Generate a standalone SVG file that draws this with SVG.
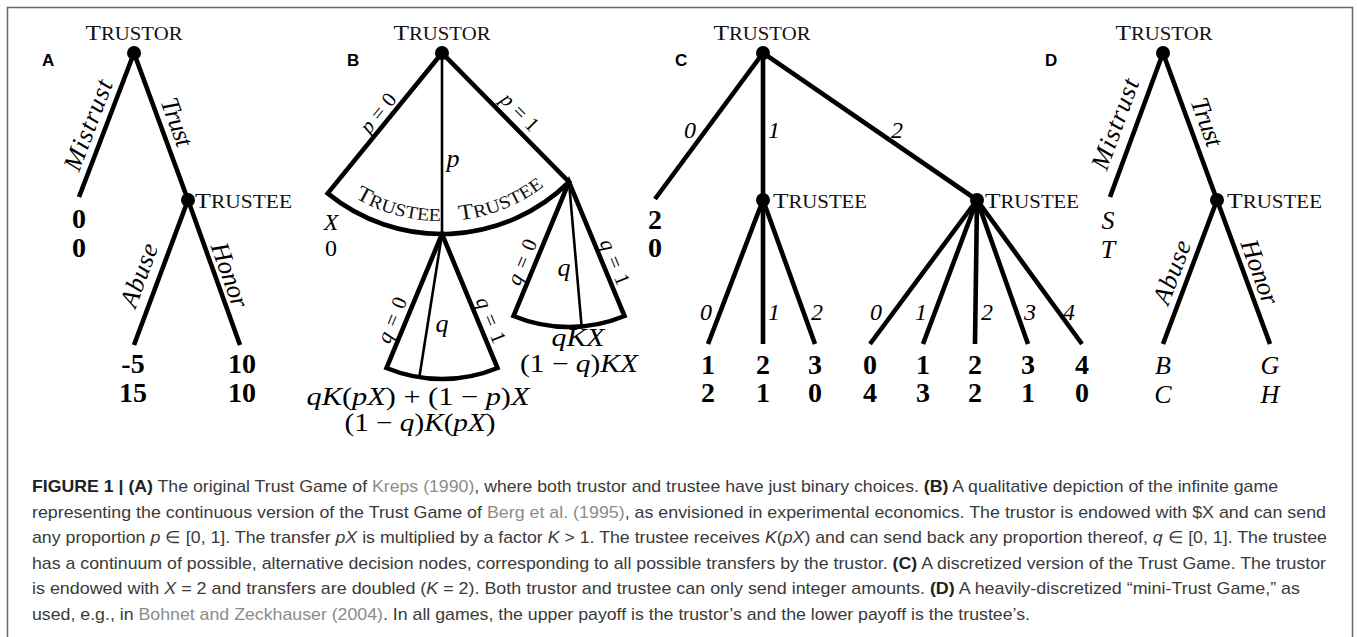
<svg xmlns="http://www.w3.org/2000/svg" width="1357" height="637" viewBox="0 0 1357 637">
  <style>
    .edge { stroke:#000; stroke-width:4.6; fill:none; stroke-linejoin:miter; }
    .thin { stroke:#000; stroke-width:2.6; fill:none; }
    .dot { fill:#000; }
    .sc { font-family:"Liberation Serif",serif; font-size:22px; fill:#111; }
    .sc .s { font-size:18px; }
    .lbl { font-family:"Liberation Serif",serif; font-style:italic; font-size:26px; fill:#000; text-anchor:middle; }
    .dig { font-family:"Liberation Serif",serif; font-style:italic; font-size:24px; fill:#000; text-anchor:middle; }
    .pay { font-family:"Liberation Serif",serif; font-weight:bold; font-size:28px; fill:#000; text-anchor:middle; }
    .ipay { font-family:"Liberation Serif",serif; font-style:italic; font-size:26px; fill:#000; text-anchor:middle; }
    .math { font-family:"Liberation Serif",serif; font-size:26px; fill:#000; text-anchor:middle; }
    .small { font-size:24px; }
    .formula { font-family:"Liberation Serif",serif; font-size:25px; fill:#000; text-anchor:middle; }
    .mlbl { font-family:"Liberation Serif",serif; font-size:21px; fill:#000; text-anchor:middle; }
    .i { font-style:italic; }
    .panel { font-family:"Liberation Sans",Arial,sans-serif; font-weight:bold; font-size:17px; fill:#000; }
    .cap { font-family:"Liberation Sans Narrow","Liberation Sans",Arial,sans-serif; font-size:17px; fill:#3a3a3a; }
    .cap .b { font-weight:bold; fill:#222; }
    .cap .ln { fill:#8c8c8c; }
  </style>
  <defs>
    <!-- baseline arcs (r = 168 about the trustor of B) for the two trustee labels -->
    <path id="arcB-left" d="M354.8,197.7 A168,168 0 0,0 444.9,221"/>
    <path id="arcB-right" d="M459.6,220.1 A168,168 0 0,0 549.8,181.7"/>
  </defs>

  <!-- frame -->
  <rect x="7.5" y="7.5" width="1345" height="650" fill="#fff" stroke="#666" stroke-width="1.5"/>

  <!-- panel letters -->
  <g id="panel-letters">
    <text class="panel" x="42" y="66">A</text>
    <text class="panel" x="347" y="66">B</text>
    <text class="panel" x="675" y="66">C</text>
    <text class="panel" x="1045" y="66">D</text>
  </g>

  <!-- connectors -->
  <g id="connectors">
    <!-- A -->
    <line class="edge" x1="134" y1="53" x2="79" y2="197"/>
    <line class="edge" x1="134" y1="53" x2="188" y2="200"/>
    <line class="edge" x1="188" y1="200" x2="134" y2="345"/>
    <line class="edge" x1="188" y1="200" x2="240" y2="345"/>
    <!-- B: trustor fan -->
    <path class="edge" d="M442,53 L327.7,193.4 A181,181 0 0,0 569,182 Z"/>
    <line class="thin" x1="442" y1="53" x2="442" y2="234"/>
    <!-- B: trustee fan at p -->
    <path class="edge" d="M442,234 L386.5,368 A145,145 0 0,0 497.5,368 Z"/>
    <line class="thin" x1="442" y1="234" x2="419.3" y2="377.2"/>
    <!-- B: trustee fan at p = 1 -->
    <path class="edge" d="M569,182 L513.5,316 A145,145 0 0,0 624.5,316 Z"/>
    <line class="thin" x1="569" y1="182" x2="581.6" y2="326.5"/>
    <!-- C -->
    <line class="edge" x1="763" y1="53" x2="655" y2="199"/>
    <line class="edge" x1="763" y1="53" x2="763" y2="200"/>
    <line class="edge" x1="763" y1="53" x2="977" y2="200"/>
    <line class="edge" x1="763" y1="200" x2="708" y2="344"/>
    <line class="edge" x1="763" y1="200" x2="763" y2="344"/>
    <line class="edge" x1="763" y1="200" x2="815" y2="344"/>
    <line class="edge" x1="977" y1="200" x2="870" y2="344"/>
    <line class="edge" x1="977" y1="200" x2="923" y2="344"/>
    <line class="edge" x1="977" y1="200" x2="975" y2="344"/>
    <line class="edge" x1="977" y1="200" x2="1028" y2="344"/>
    <line class="edge" x1="977" y1="200" x2="1082" y2="344"/>
    <!-- D -->
    <line class="edge" x1="1163" y1="53" x2="1110" y2="197"/>
    <line class="edge" x1="1163" y1="53" x2="1217" y2="200"/>
    <line class="edge" x1="1217" y1="200" x2="1163" y2="344"/>
    <line class="edge" x1="1217" y1="200" x2="1270" y2="344"/>

    <!-- edge labels -->
    <text class="lbl" transform="translate(88 125) rotate(-69)" dy="0.33em" textLength="95">Mistrust</text>
    <text class="lbl" transform="translate(177 122) rotate(69.7)" dy="0.33em" textLength="50">Trust</text>
    <text class="lbl" transform="translate(139 275) rotate(-69.6)" dy="0.33em" textLength="66">Abuse</text>
    <text class="lbl" transform="translate(230 275) rotate(70.3)" dy="0.33em" textLength="67">Honor</text>

    <text class="mlbl" transform="translate(378 113) rotate(-50.8)" dy="0.33em" textLength="45"><tspan class="i">p</tspan> = 0</text>
    <text class="mlbl" transform="translate(520 112) rotate(45.4)" dy="0.33em" textLength="45"><tspan class="i">p</tspan> = 1</text>
    <text class="math i" x="453" y="167">p</text>
    <text class="mlbl" transform="translate(392 320) rotate(-67.5)" dy="0.33em" textLength="48"><tspan class="i">q</tspan> = 0</text>
    <text class="mlbl" transform="translate(491 320) rotate(67.5)" dy="0.33em" textLength="48"><tspan class="i">q</tspan> = 1</text>
    <text class="math i" x="442" y="332">q</text>
    <text class="mlbl" transform="translate(522 262) rotate(-67.5)" dy="0.33em" textLength="48"><tspan class="i">q</tspan> = 0</text>
    <text class="mlbl" transform="translate(615 262) rotate(67.5)" dy="0.33em" textLength="48"><tspan class="i">q</tspan> = 1</text>
    <text class="math i" x="564" y="276">q</text>

    <text class="dig" x="690" y="138">0</text>
    <text class="dig" x="774" y="138">1</text>
    <text class="dig" x="897" y="138">2</text>
    <text class="dig" x="706" y="320">0</text>
    <text class="dig" x="774" y="320">1</text>
    <text class="dig" x="817" y="320">2</text>
    <text class="dig" x="876" y="320">0</text>
    <text class="dig" x="921" y="320">1</text>
    <text class="dig" x="987" y="320">2</text>
    <text class="dig" x="1030" y="320">3</text>
    <text class="dig" x="1069" y="320">4</text>

    <text class="lbl" transform="translate(1115 124) rotate(-69.8)" dy="0.33em" textLength="95">Mistrust</text>
    <text class="lbl" transform="translate(1207 122) rotate(69.8)" dy="0.33em" textLength="50">Trust</text>
    <text class="lbl" transform="translate(1172 272) rotate(-69.3)" dy="0.33em" textLength="66">Abuse</text>
    <text class="lbl" transform="translate(1260 272) rotate(69.7)" dy="0.33em" textLength="67">Honor</text>
  </g>

  <!-- Panel A nodes -->
  <g id="A-trustor">
    <circle class="dot" cx="134" cy="53" r="7"/>
    <text class="sc" x="134" y="40" text-anchor="middle" textLength="97" lengthAdjust="spacingAndGlyphs">T<tspan class="s">RUSTOR</tspan></text>
  </g>
  <g id="A-trustee">
    <circle class="dot" cx="188" cy="200" r="7"/>
    <text class="sc" x="195" y="208" textLength="97" lengthAdjust="spacingAndGlyphs">T<tspan class="s">RUSTEE</tspan></text>
  </g>
  <g id="A-mistrust-payoff">
    <text class="pay" x="79" y="228">0</text>
    <text class="pay" x="79" y="257">0</text>
  </g>
  <g id="A-abuse-payoff">
    <text class="pay" x="133" y="373">-5</text>
    <text class="pay" x="133" y="402">15</text>
  </g>
  <g id="A-honor-payoff">
    <text class="pay" x="242" y="373">10</text>
    <text class="pay" x="242" y="402">10</text>
  </g>

  <!-- Panel B nodes -->
  <g id="B-trustor">
    <circle class="dot" cx="442" cy="53" r="7"/>
    <text class="sc" x="442" y="40" text-anchor="middle" textLength="97" lengthAdjust="spacingAndGlyphs">T<tspan class="s">RUSTOR</tspan></text>
  </g>
  <g id="B-trustee-fan">
    <text class="sc"><textPath href="#arcB-left" textLength="90" lengthAdjust="spacingAndGlyphs">T<tspan class="s">RUSTEE</tspan></textPath></text>
    <text class="sc"><textPath href="#arcB-right" textLength="92" lengthAdjust="spacingAndGlyphs">T<tspan class="s">RUSTEE</tspan></textPath></text>
  </g>
  <g id="B-p0-payoff">
    <text class="math small i" x="331" y="230">X</text>
    <text class="math small" x="331" y="256">0</text>
  </g>
  <g id="B-p-payoff">
    <text class="formula" x="418" y="405" textLength="223" lengthAdjust="spacingAndGlyphs"><tspan class="i">qK</tspan>(<tspan class="i">pX</tspan>) + (1 − <tspan class="i">p</tspan>)<tspan class="i">X</tspan></text>
    <text class="formula" x="420" y="431" textLength="151" lengthAdjust="spacingAndGlyphs">(1 − <tspan class="i">q</tspan>)<tspan class="i">K</tspan>(<tspan class="i">pX</tspan>)</text>
  </g>
  <g id="B-p1-payoff">
    <text class="formula i" x="578" y="346" textLength="53" lengthAdjust="spacingAndGlyphs">qKX</text>
    <text class="formula" x="579" y="372" textLength="118" lengthAdjust="spacingAndGlyphs">(1 − <tspan class="i">q</tspan>)<tspan class="i">KX</tspan></text>
  </g>

  <!-- Panel C nodes -->
  <g id="C-trustor">
    <circle class="dot" cx="763" cy="53" r="7"/>
    <text class="sc" x="762" y="40" text-anchor="middle" textLength="97" lengthAdjust="spacingAndGlyphs">T<tspan class="s">RUSTOR</tspan></text>
  </g>
  <g id="C-trustee-1">
    <circle class="dot" cx="763" cy="200" r="7"/>
    <text class="sc" x="773" y="208" textLength="94" lengthAdjust="spacingAndGlyphs">T<tspan class="s">RUSTEE</tspan></text>
  </g>
  <g id="C-trustee-2">
    <circle class="dot" cx="977" cy="200" r="7"/>
    <text class="sc" x="985" y="208" textLength="94" lengthAdjust="spacingAndGlyphs">T<tspan class="s">RUSTEE</tspan></text>
  </g>
  <g id="C-payoffs">
    <text class="pay" x="655" y="229">2</text><text class="pay" x="655" y="257">0</text>
    <text class="pay" x="708" y="374">1</text><text class="pay" x="708" y="402">2</text>
    <text class="pay" x="763" y="374">2</text><text class="pay" x="763" y="402">1</text>
    <text class="pay" x="815" y="374">3</text><text class="pay" x="815" y="402">0</text>
    <text class="pay" x="870" y="374">0</text><text class="pay" x="870" y="402">4</text>
    <text class="pay" x="923" y="374">1</text><text class="pay" x="923" y="402">3</text>
    <text class="pay" x="975" y="374">2</text><text class="pay" x="975" y="402">2</text>
    <text class="pay" x="1028" y="374">3</text><text class="pay" x="1028" y="402">1</text>
    <text class="pay" x="1082" y="374">4</text><text class="pay" x="1082" y="402">0</text>
  </g>

  <!-- Panel D nodes -->
  <g id="D-trustor">
    <circle class="dot" cx="1163" cy="53" r="7"/>
    <text class="sc" x="1164" y="40" text-anchor="middle" textLength="97" lengthAdjust="spacingAndGlyphs">T<tspan class="s">RUSTOR</tspan></text>
  </g>
  <g id="D-trustee">
    <circle class="dot" cx="1217" cy="200" r="7"/>
    <text class="sc" x="1227" y="208" textLength="95" lengthAdjust="spacingAndGlyphs">T<tspan class="s">RUSTEE</tspan></text>
  </g>
  <g id="D-payoffs">
    <text class="ipay" x="1108" y="229">S</text><text class="ipay" x="1108" y="258">T</text>
    <text class="ipay" x="1163" y="374">B</text><text class="ipay" x="1163" y="403">C</text>
    <text class="ipay" x="1270" y="374">G</text><text class="ipay" x="1270" y="403">H</text>
  </g>

  <!-- caption -->
  <g id="caption" class="cap">
    <text x="32" y="492" textLength="1246" lengthAdjust="spacingAndGlyphs"><tspan class="b">FIGURE 1 | (A)</tspan> The original Trust Game of <tspan class="ln">Kreps (1990)</tspan>, where both trustor and trustee have just binary choices. <tspan class="b">(B)</tspan> A qualitative depiction of the infinite game</text>
    <text x="32" y="517.5" textLength="1294" lengthAdjust="spacingAndGlyphs">representing the continuous version of the Trust Game of <tspan class="ln">Berg et al. (1995)</tspan>, as envisioned in experimental economics. The trustor is endowed with $X and can send</text>
    <text x="32" y="543" textLength="1295" lengthAdjust="spacingAndGlyphs">any proportion <tspan class="i">p</tspan> ∈ [0, 1]. The transfer <tspan class="i">pX</tspan> is multiplied by a factor <tspan class="i">K</tspan> &gt; 1. The trustee receives <tspan class="i">K</tspan>(<tspan class="i">pX</tspan>) and can send back any proportion thereof, <tspan class="i">q</tspan> ∈ [0, 1]. The trustee</text>
    <text x="32" y="568.5" textLength="1294" lengthAdjust="spacingAndGlyphs">has a continuum of possible, alternative decision nodes, corresponding to all possible transfers by the trustor. <tspan class="b">(C)</tspan> A discretized version of the Trust Game. The trustor</text>
    <text x="32" y="594" textLength="1268" lengthAdjust="spacingAndGlyphs">is endowed with <tspan class="i">X</tspan> = 2 and transfers are doubled (<tspan class="i">K</tspan> = 2). Both trustor and trustee can only send integer amounts. <tspan class="b">(D)</tspan> A heavily-discretized “mini-Trust Game,” as</text>
    <text x="32" y="619.5" textLength="998" lengthAdjust="spacingAndGlyphs">used, e.g., in <tspan class="ln">Bohnet and Zeckhauser (2004)</tspan>. In all games, the upper payoff is the trustor’s and the lower payoff is the trustee’s.</text>
  </g>
</svg>
